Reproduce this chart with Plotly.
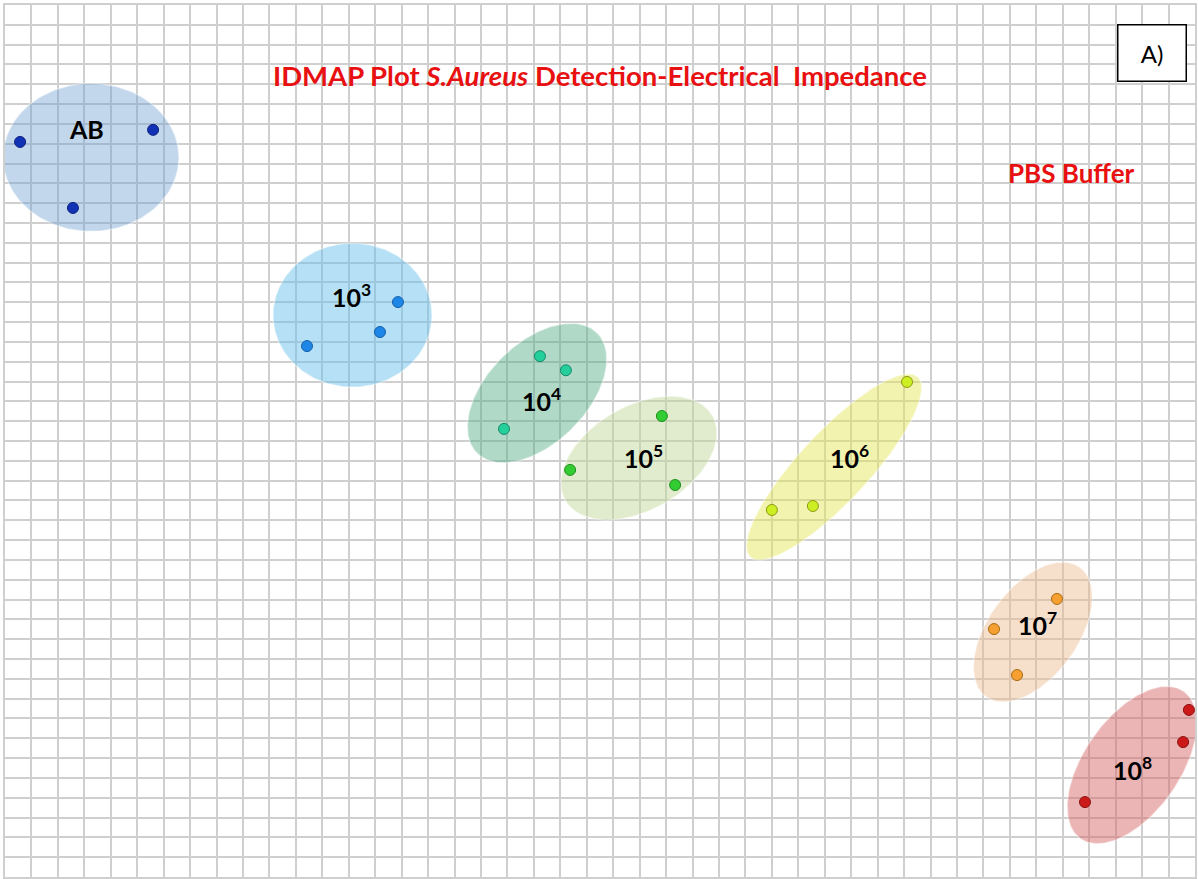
import numpy as np
import plotly.graph_objects as go

# ---------------- data (grid units, y pointing up) ----------------
groups = ["AB", "10<sup>3</sup>", "10<sup>4</sup>", "10<sup>5</sup>",
          "10<sup>6</sup>", "10<sup>7</sup>", "10<sup>8</sup>"]

x_AB = [0.57, 5.60, 2.57]
y_AB = [37.09, 37.70, 33.76]
x_e3 = [14.86, 14.18, 11.42]
y_e3 = [29.01, 27.50, 26.79]
x_e4 = [20.23, 21.21, 18.87]
y_e4 = [26.28, 25.57, 22.61]
x_e5 = [24.84, 21.37, 25.34]
y_e5 = [23.26, 20.54, 19.78]
x_e6 = [34.11, 29.00, 30.55]
y_e6 = [24.98, 18.52, 18.72]
x_e7 = [39.78, 37.40, 38.27]
y_e7 = [14.03, 12.51, 10.19]
x_e8 = [44.77, 44.55, 40.84]
y_e8 = [8.43, 6.81, 3.78]

# cluster ellipse centres (grid units)
ell_cx = [3.25, 13.14, 20.12, 23.97, 31.35, 38.87, 42.62]
ell_cy = [36.31, 28.35, 24.42, 21.14, 20.69, 12.36, 5.65]
# label positions (grid units)
lab_x = [3.10, 13.12, 20.27, 24.13, 31.92, 39.03, 42.62]
lab_y = [37.74, 29.32, 24.07, 21.24, 21.24, 12.77, 5.50]

xs = [x_AB, x_e3, x_e4, x_e5, x_e6, x_e7, x_e8]
ys = [y_AB, y_e3, y_e4, y_e5, y_e6, y_e7, y_e8]

# ---------------- styles ----------------
W, H = 1198, 879
ML, MR, MT, MB = 5, 3, 5, 2
NX, NY = 45, 44
px_x = (W - ML - MR) / NX
px_y = (H - MT - MB) / NY

ell_a = [88, 79.5, 85, 85, 123, 80, 90]      # semi axes in px
ell_b = [74, 72, 50, 52, 35, 45, 48]
ell_rot = [0, 0, 45, 30, 47, 54, 55]         # degrees
ell_fill = ["rgba(110,160,210,0.42)", "rgba(100,190,235,0.48)",
            "rgba(80,170,130,0.45)", "rgba(190,215,150,0.48)",
            "rgba(230,230,90,0.48)", "rgba(235,185,140,0.45)",
            "rgba(215,100,100,0.48)"]
pt_fill = ["#1232b5", "#1e86e6", "#24cf9c", "#33cc33", "#ccee22", "#f5a030", "#cc1a1a"]
pt_line = ["#0a1f80", "#1560a8", "#168a68", "#1f8f1f", "#8a9a10", "#a86a10", "#8a0f0f"]

fig = go.Figure()

t = np.linspace(0, 2 * np.pi, 200)
for i in range(len(groups)):
    a, b = ell_a[i], ell_b[i]
    th = np.deg2rad(ell_rot[i])
    dx = a * np.cos(t) * np.cos(th) - b * np.sin(t) * np.sin(th)
    dy = a * np.cos(t) * np.sin(th) + b * np.sin(t) * np.cos(th)
    fig.add_trace(go.Scatter(
        x=ell_cx[i] + dx / px_x, y=ell_cy[i] + dy / px_y,
        mode="lines", fill="toself", fillcolor=ell_fill[i],
        line=dict(width=1.5, color="rgba(255,255,255,0.4)"),
        hoverinfo="skip", showlegend=False))

for i in range(len(groups)):
    fig.add_trace(go.Scatter(
        x=xs[i], y=ys[i], mode="markers",
        marker=dict(size=11, color=pt_fill[i], line=dict(width=1, color=pt_line[i])),
        name=groups[i], showlegend=False))

for i in range(len(groups)):
    fig.add_annotation(x=lab_x[i], y=lab_y[i], text=groups[i], showarrow=False,
                       xanchor="center", yanchor="middle",
                       font=dict(family="Lato", size=25, color="black", weight="bold"))

fig.add_annotation(xref="paper", yref="paper", x=(600 - ML) / (W - ML - MR),
                   y=(H - MB - 76) / (H - MT - MB), xanchor="center", yanchor="middle",
                   text="IDMAP Plot <i>S.Aureus</i> Detection-Electrical&nbsp; Impedance",
                   showarrow=False, font=dict(family="Lato", size=27.5, color="#e81010", weight="bold"))
fig.add_annotation(xref="paper", yref="paper", x=(1071 - ML) / (W - ML - MR),
                   y=(H - MB - 173) / (H - MT - MB), xanchor="center", yanchor="middle",
                   text="PBS Buffer", showarrow=False,
                   font=dict(family="Lato", size=26, color="#e81010", weight="bold"))
fig.add_annotation(xref="paper", yref="paper", x=(1152 - ML) / (W - ML - MR),
                   y=(H - MB - 53) / (H - MT - MB), xanchor="center", yanchor="middle",
                   text="A)", showarrow=False, width=67, height=55, bgcolor="white",
                   bordercolor="black", borderwidth=1.5, borderpad=0,
                   font=dict(family="Lato", size=24, color="black"))

axis_common = dict(showgrid=True, gridcolor="#cfcfcf", gridwidth=1.5, dtick=1, tick0=0,
                   showticklabels=False, ticks="", zeroline=False, showline=True,
                   mirror=True, linecolor="#cfcfcf", linewidth=1.5, fixedrange=True)
fig.update_xaxes(range=[0, NX], **axis_common)
fig.update_yaxes(range=[0, NY], **axis_common)

fig.update_layout(width=W, height=H, margin=dict(l=ML, r=MR, t=MT, b=MB),
                  plot_bgcolor="white", paper_bgcolor="white")

fig.write_html("out.html", config={"displayModeBar": False},
               post_script="document.body.style.margin='0';")
